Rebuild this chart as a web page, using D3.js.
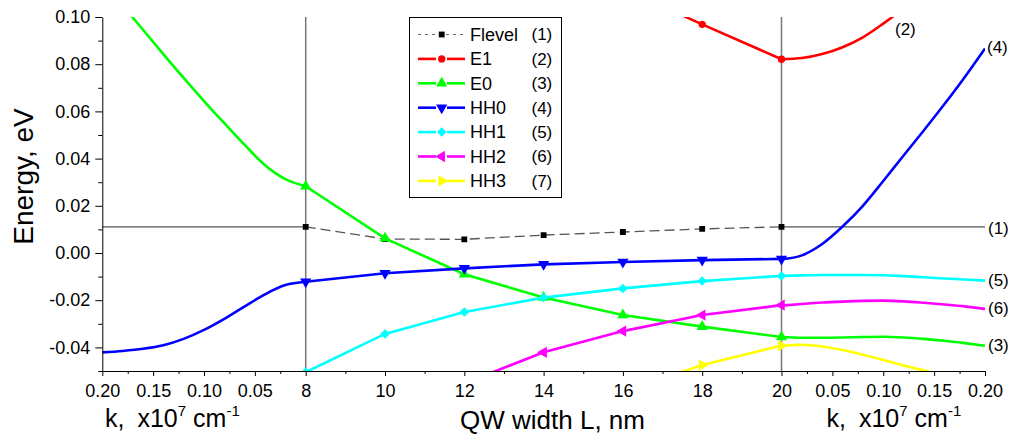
<!DOCTYPE html>
<html>
<head>
<meta charset="utf-8">
<script src="https://cdn.jsdelivr.net/npm/d3@7"></script>
<style>
  body { margin: 0; background: #fff; }
  svg { font-family: "Liberation Sans", Arial, sans-serif; }
</style>
</head>
<body>
<div id="chart"></div>
<script>
// ---- data ----
var widths = [8, 10, 12, 14, 16, 18, 20];             // QW width L, nm
var kGrid = [0, 0.02, 0.04, 0.06, 0.08, 0.10, 0.12, 0.14, 0.16, 0.18, 0.20];

var flevelMid = [0.0111, 0.0059, 0.0058, 0.0076, 0.0089, 0.0102, 0.0111];
var e1Mid  = [null, null, null, null, 0.112, 0.0969, 0.0821];
var e0Mid  = [0.0283, 0.0062, -0.0090, -0.0189, -0.0263, -0.0312, -0.0356];
var hh0Mid = [-0.0122, -0.0086, -0.0065, -0.0048, -0.0038, -0.0030, -0.0025];
var hh1Mid = [-0.0505, -0.0343, -0.0250, -0.0189, -0.0150, -0.0119, -0.0097];
var hh2Mid = [null, null, -0.0552, -0.0421, -0.0331, -0.0263, -0.0221];
var hh3Mid = [null, null, null, null, -0.059, -0.0475, -0.0392];

// left panel, L = 8 nm
var e0Left  = [0.0283, 0.0313, 0.0372, 0.0458, 0.0550, 0.0644, 0.0742, 0.0843, 0.0946, 0.1050, 0.1155];
var hh0Left = [-0.0122, -0.0136, -0.0175, -0.0226, -0.0279, -0.0326, -0.0364, -0.0391, -0.0406, -0.0415, -0.0421];

// right panel, L = 20 nm
var e1Right  = [0.0821, 0.0826, 0.0843, 0.0872, 0.0914, 0.0972, 0.1036, 0.1106, 0.1180, 0.1260, 0.1345];
var e0Right  = [-0.0356, -0.0359, -0.0359, -0.0358, -0.0356, -0.0355, -0.0358, -0.0364, -0.0372, -0.0382, -0.0393];
var hh0Right = [-0.0026, -0.0010, 0.0038, 0.0112, 0.0200, 0.0305, 0.0413, 0.0520, 0.0630, 0.0745, 0.0867];
var hh1Right = [-0.0097, -0.0095, -0.0093, -0.0093, -0.0093, -0.0094, -0.0098, -0.0103, -0.0108, -0.0112, -0.0117];
var hh2Right = [-0.0223, -0.0216, -0.0210, -0.0206, -0.0203, -0.0202, -0.0205, -0.0211, -0.0218, -0.0226, -0.0237];
var hh3Right = [-0.0394, -0.0389, -0.0396, -0.0411, -0.0431, -0.0453, -0.0477, -0.0498, -0.0517, -0.0536, -0.0555];

var fermiSide = 0.0111;

var yTicks = [-0.04, -0.02, 0.00, 0.02, 0.04, 0.06, 0.08, 0.10];
var yMinor = [-0.05, -0.03, -0.01, 0.01, 0.03, 0.05, 0.07, 0.09];
var kTicks = [0.05, 0.10, 0.15, 0.20];
var kMinor = [0.025, 0.075, 0.125, 0.175];
var midTicks = [8, 10, 12, 14, 16, 18, 20];
var midMinor = [9, 11, 13, 15, 17, 19];

var names = ['Flevel', 'E1', 'E0', 'HH0', 'HH1', 'HH2', 'HH3'];
var nums = ['(1)', '(2)', '(3)', '(4)', '(5)', '(6)', '(7)'];
var colors = ['#555555', '#ff0000', '#00ff00', '#0000ff', '#00ffff', '#ff00ff', '#ffff00'];

(function(){
  // ---- layout ----
  var W = 1010, H = 438;
  var yTop = 17, yBot = 371;
  var xL0 = 102.3, xL1 = 305.7, xR0 = 781.5, xR1 = 985;

  var svg = d3.select('#chart').append('svg').attr('width', W).attr('height', H);

  var y = d3.scaleLinear().domain([-0.05, 0.10]).range([yBot, yTop]);
  var xLeft = d3.scaleLinear().domain([0.20, 0]).range([xL0, xL1]);
  var xMid = d3.scaleLinear().domain([8, 20]).range([xL1, xR0]);
  var xRight = d3.scaleLinear().domain([0, 0.20]).range([xR0, xR1]);

  svg.append('defs').append('clipPath').attr('id', 'plot')
    .append('rect').attr('x', xL0).attr('y', yTop).attr('width', xR1 - xL0).attr('height', yBot - yTop);

  var plot = svg.append('g').attr('clip-path', 'url(#plot)');

  // separators and Fermi level in side panels
  [8, 20].forEach(function(v){
    plot.append('line').attr('x1', xMid(v)).attr('x2', xMid(v)).attr('y1', yTop).attr('y2', yBot)
      .attr('stroke', '#777').attr('stroke-width', 1.5);
  });
  plot.append('line').attr('x1', xL0).attr('x2', xL1).attr('y1', y(fermiSide)).attr('y2', y(fermiSide))
    .attr('stroke', '#555').attr('stroke-width', 1.3);
  plot.append('line').attr('x1', xR0).attr('x2', xR1).attr('y1', y(fermiSide)).attr('y2', y(fermiSide))
    .attr('stroke', '#555').attr('stroke-width', 1.3);

  function sideLine(xs, vals, color){
    var pts = d3.zip(kGrid, vals).sort(function(a, b){ return xs(a[0]) - xs(b[0]); });
    var line = d3.line()
      .x(function(d){ return xs(d[0]); })
      .y(function(d){ return y(d[1]); })
      .curve(d3.curveMonotoneX);
    plot.append('path').datum(pts)
      .attr('d', line).attr('fill', 'none').attr('stroke', color).attr('stroke-width', 2.6);
  }

  sideLine(xLeft, e0Left, colors[2]);
  sideLine(xLeft, hh0Left, colors[3]);
  sideLine(xRight, e1Right, colors[1]);
  sideLine(xRight, e0Right, colors[2]);
  sideLine(xRight, hh1Right, colors[4]);
  sideLine(xRight, hh2Right, colors[5]);
  sideLine(xRight, hh3Right, colors[6]);
  sideLine(xRight, hh0Right, colors[3]);

  // marker shapes
  function marker(i){
    var sym = [d3.symbolSquare, d3.symbolCircle, d3.symbolTriangle, d3.symbolTriangle,
               d3.symbolSquare, d3.symbolTriangle, d3.symbolTriangle][i];
    var size = [34, 42, 55, 55, 45, 55, 55][i];
    return d3.symbol().type(sym).size(size)();
  }
  var rot = [0, 0, 0, 180, 45, -90, 90];

  var midSeries = [flevelMid, e1Mid, e0Mid, hh0Mid, hh1Mid, hh2Mid, hh3Mid];
  var midLine = d3.line()
    .defined(function(d){ return d[1] !== null; })
    .x(function(d){ return xMid(d[0]); })
    .y(function(d){ return y(d[1]); });

  [0, 2, 4, 5, 6, 3, 1].forEach(function(i){
    var pts = d3.zip(widths, midSeries[i]);
    var p = plot.append('path').datum(pts).attr('d', midLine).attr('fill', 'none');
    if(i === 0) p.attr('stroke', '#555').attr('stroke-width', 1.3).attr('stroke-dasharray', '10,5');
    else p.attr('stroke', colors[i]).attr('stroke-width', 2.6);
    plot.selectAll(null).data(pts.filter(function(d){ return d[1] !== null; }))
      .enter().append('path')
      .attr('d', marker(i))
      .attr('transform', function(d){ return 'translate(' + xMid(d[0]) + ',' + y(d[1]) + ') rotate(' + rot[i] + ')'; })
      .attr('fill', i === 0 ? '#000' : colors[i]);
  });

  // ---- axes ----
  var fmt = function(d){ return d.toFixed(2); };

  svg.append('g').attr('transform', 'translate(' + xL0 + ',0)')
    .call(d3.axisLeft(y).tickValues(yTicks).tickFormat(fmt).tickSize(7).tickPadding(5).tickSizeOuter(0));
  svg.append('g').attr('transform', 'translate(' + xL0 + ',0)')
    .call(d3.axisLeft(y).tickValues(yMinor).tickFormat('').tickSize(4))
    .select('.domain').remove();

  function xAxis(scale, major, minor, f){
    svg.append('g').attr('transform', 'translate(0,' + yBot + ')')
      .call(d3.axisBottom(scale).tickValues(major).tickFormat(f).tickSize(5).tickPadding(8).tickSizeOuter(0));
    svg.append('g').attr('transform', 'translate(0,' + yBot + ')')
      .call(d3.axisBottom(scale).tickValues(minor).tickFormat('').tickSize(3))
      .select('.domain').remove();
  }
  xAxis(xLeft, kTicks, kMinor, fmt);
  xAxis(xMid, midTicks, midMinor, d3.format('d'));
  xAxis(xRight, kTicks, kMinor, fmt);

  svg.selectAll('.tick text').attr('font-size', 18).attr('fill', '#000')
    .attr('font-family', '"Liberation Sans", Arial, sans-serif');
  svg.selectAll('.tick line').attr('stroke', '#000');
  svg.selectAll('.domain').attr('stroke', '#000');

  // ---- titles ----
  svg.append('text').attr('transform', 'translate(32.7,176.5) rotate(-90)')
    .attr('text-anchor', 'middle').attr('font-size', 28).text('Energy, eV');

  svg.append('text').attr('x', 552.5).attr('y', 429).attr('text-anchor', 'middle')
    .attr('font-size', 26).text('QW width L, nm');

  function kTitle(x0){
    var t = svg.append('text').attr('x', x0).attr('y', 427).attr('font-size', 25);
    t.append('tspan').text('k,');
    t.append('tspan').attr('dx', 13).text('x10');
    t.append('tspan').attr('font-size', 15).attr('dy', -11).text('7');
    t.append('tspan').attr('dx', 7).attr('dy', 11).text('cm');
    t.append('tspan').attr('font-size', 15).attr('dy', -11).text('-1');
  }
  kTitle(105);
  kTitle(826.5);

  // curve labels at right
  var sideLabels = [['(2)', 895, 29], ['(4)', 987, 47], ['(1)', 988, 228], ['(5)', 988, 280],
                    ['(6)', 988, 308.5], ['(3)', 988, 345]];
  svg.selectAll(null).data(sideLabels).enter().append('text')
    .attr('x', function(d){ return d[1]; }).attr('y', function(d){ return d[2]; })
    .attr('dy', '0.35em').attr('font-size', 17).text(function(d){ return d[0]; });

  // ---- legend ----
  var lg = svg.append('g');
  lg.append('rect').attr('x', 409.5).attr('y', 17.5).attr('width', 152).attr('height', 180)
    .attr('fill', '#fff').attr('stroke', '#000').attr('stroke-width', 1);
  names.forEach(function(n, i){
    var cy = 34.5 + i * 24.4;
    if(i === 0){
      lg.append('line').attr('x1', 418).attr('x2', 465).attr('y1', cy).attr('y2', cy)
        .attr('stroke', '#666').attr('stroke-width', 1.2).attr('stroke-dasharray', '3,4');
    } else {
      lg.append('line').attr('x1', 418).attr('x2', 436).attr('y1', cy).attr('y2', cy)
        .attr('stroke', colors[i]).attr('stroke-width', 2.6);
      lg.append('line').attr('x1', 447).attr('x2', 465).attr('y1', cy).attr('y2', cy)
        .attr('stroke', colors[i]).attr('stroke-width', 2.6);
    }
    lg.append('path').attr('d', marker(i))
      .attr('transform', 'translate(441.7,' + cy + ') rotate(' + rot[i] + ')')
      .attr('fill', i === 0 ? '#000' : colors[i]);
    lg.append('text').attr('x', 470).attr('y', cy).attr('dy', '0.35em').attr('font-size', 18).text(n);
    lg.append('text').attr('x', 531.5).attr('y', cy).attr('dy', '0.35em').attr('font-size', 17).text(nums[i]);
  });
})();
</script>
</body>
</html>
